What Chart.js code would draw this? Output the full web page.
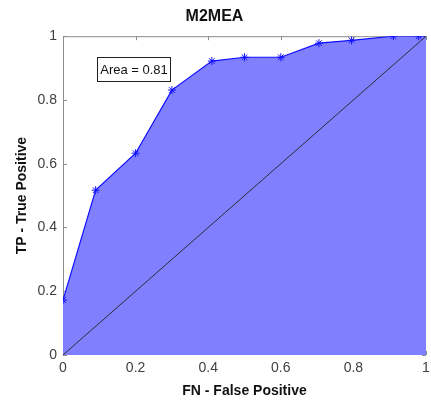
<!DOCTYPE html>
<html>
<head>
<meta charset="utf-8">
<script src="https://cdn.jsdelivr.net/npm/chart.js@4"></script>
<style>
  html, body { margin: 0; padding: 0; background: #fff; }
  #wrap { width: 431px; height: 403px; }
</style>
</head>
<body>
<div id="wrap"><canvas id="roc"></canvas></div>
<script>
// values
const fpRate = [0, 0.09, 0.2, 0.3, 0.41, 0.5, 0.6, 0.705, 0.795, 0.91, 0.98, 1];
const tpRate = [0.172, 0.517, 0.633, 0.831, 0.922, 0.934, 0.934, 0.978, 0.987, 1, 1, 1];
const markerSize = [4, 4, 4, 4, 4, 4, 4, 4, 4, 4, 4, 0];
const chanceX = [0, 1];
const chanceY = [0, 1];
const tickValues = [0, 0.2, 0.4, 0.6, 0.8, 1];
const areaText = 'Area = 0.81';
const areaBoxX = [0.093, 0.295];
const areaBoxY = [0.934, 0.859];

const FONT = "'Liberation Sans', Arial, Helvetica, sans-serif";

function pts(xs, ys) {
    return xs.map((x, i) => ({ x: x, y: ys[i] }));
}

// matlab style box with inward ticks + the area label
const framePlugin = {
    id: 'frame',
    beforeDatasetsDraw(chart) {
        const { ctx, chartArea: a, scales } = chart;
        ctx.save();
        ctx.strokeStyle = '#8c8c8c';
        ctx.lineWidth = 1;
        ctx.strokeRect(a.left + 0.5, a.top + 0.5, a.right - a.left - 1, a.bottom - a.top - 1);
        ctx.beginPath();
        tickValues.forEach(v => {
            const px = Math.round(scales.x.getPixelForValue(v)) + 0.5;
            const py = Math.round(scales.y.getPixelForValue(v)) + 0.5;
            ctx.moveTo(px, a.bottom); ctx.lineTo(px, a.bottom - 4);
            ctx.moveTo(px, a.top); ctx.lineTo(px, a.top + 4);
            ctx.moveTo(a.left, py); ctx.lineTo(a.left + 4, py);
            ctx.moveTo(a.right, py); ctx.lineTo(a.right - 4, py);
        });
        ctx.stroke();
        ctx.restore();
    },
    afterDatasetsDraw(chart) {
        const { ctx, scales } = chart;
        const x0 = Math.round(scales.x.getPixelForValue(areaBoxX[0])) + 0.5;
        const x1 = Math.round(scales.x.getPixelForValue(areaBoxX[1])) + 0.5;
        const y0 = Math.round(scales.y.getPixelForValue(areaBoxY[0])) + 0.5;
        const y1 = Math.round(scales.y.getPixelForValue(areaBoxY[1])) + 0.5;
        ctx.save();
        ctx.fillStyle = '#ffffff';
        ctx.fillRect(x0, y0, x1 - x0, y1 - y0);
        ctx.strokeStyle = '#222';
        ctx.lineWidth = 1;
        ctx.strokeRect(x0, y0, x1 - x0, y1 - y0);
        ctx.fillStyle = '#111';
        ctx.font = '13px ' + FONT;
        ctx.textAlign = 'center';
        ctx.textBaseline = 'middle';
        ctx.fillText(areaText, (x0 + x1) / 2, (y0 + y1) / 2 + 1);
        ctx.restore();
    }
};

const tickFmt = v => (Math.round(v * 10) / 10).toString();

new Chart(document.getElementById('roc'), {
    type: 'line',
    data: {
        datasets: [{
            label: 'chance',
            data: pts(chanceX, chanceY),
            borderColor: '#2b2b3a',
            borderWidth: 1,
            pointRadius: 0,
            fill: false,
            order: 0
        }, {
            label: 'ROC',
            data: pts(fpRate, tpRate),
            borderColor: '#0f0fff',
            backgroundColor: 'rgb(128,128,255)',
            borderWidth: 1.2,
            pointStyle: 'star',
            pointRadius: markerSize,
            pointBorderColor: '#0f0fff',
            pointBorderWidth: 1,
            fill: 'origin',
            tension: 0,
            order: 1
        }]
    },
    options: {
        responsive: true,
        maintainAspectRatio: false,
        animation: false,
        events: [],
        layout: { padding: { right: 2 } },
        plugins: {
            legend: { display: false },
            tooltip: { enabled: false },
            title: {
                display: true,
                text: 'M2MEA',
                color: '#111',
                font: { family: FONT, size: 16, weight: 'bold' },
                padding: { top: 7, bottom: 10 }
            }
        },
        scales: {
            x: {
                type: 'linear',
                min: 0,
                max: 1,
                afterBuildTicks: s => { s.ticks = tickValues.map(v => ({ value: v })); },
                ticks: {
                    callback: tickFmt,
                    color: '#404040',
                    font: { family: FONT, size: 14 },
                    padding: 5,
                    maxRotation: 0
                },
                grid: { display: false, drawTicks: false },
                border: { display: false },
                title: {
                    display: true,
                    text: 'FN - False Positive',
                    color: '#111',
                    font: { family: FONT, size: 14, weight: 'bold' },
                    padding: { top: 0, bottom: 3 }
                },
                afterFit: s => { s.height = 48; s.paddingRight = 2; s.paddingLeft = 0; }
            },
            y: {
                type: 'linear',
                min: 0,
                max: 1,
                afterBuildTicks: s => { s.ticks = tickValues.map(v => ({ value: v })); },
                ticks: {
                    callback: tickFmt,
                    color: '#404040',
                    font: { family: FONT, size: 14 },
                    padding: 6
                },
                grid: { display: false, drawTicks: false },
                border: { display: false },
                title: {
                    display: true,
                    text: 'TP - True Positive',
                    color: '#111',
                    font: { family: FONT, size: 14, weight: 'bold' },
                    padding: { top: 14, bottom: 0 }
                },
                afterFit: s => { s.width = 63; }
            }
        }
    },
    plugins: [framePlugin]
});
</script>
</body>
</html>
